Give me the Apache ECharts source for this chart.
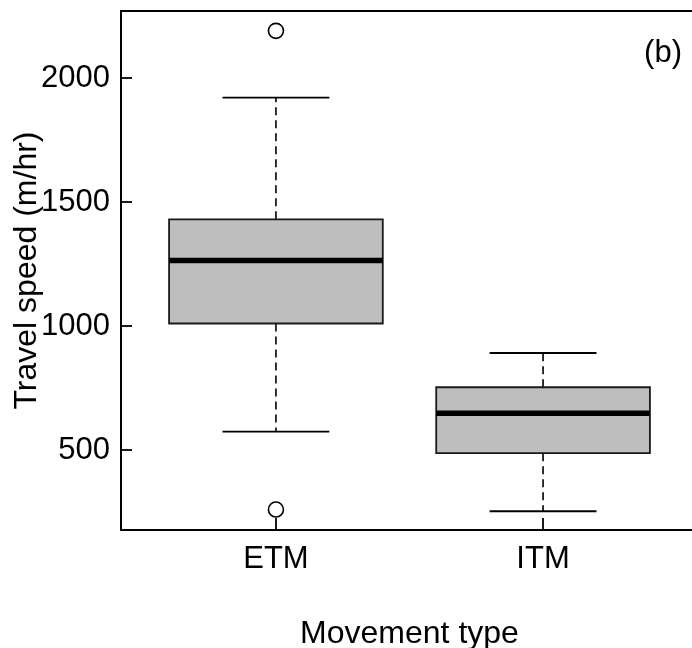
<!DOCTYPE html>
<html>
<head>
<meta charset="utf-8">
<script src="https://cdn.jsdelivr.net/npm/echarts@6/dist/echarts.min.js"></script>
<style>
  html, body { margin: 0; padding: 0; background: #fff; }
  #chart { width: 692px; height: 648px; }
</style>
</head>
<body>
<div id="chart"></div>
<script>
// Travel speed by movement type: box summaries and outliers
const categories = ['ETM', 'ITM'];
const lowerWhisker = [574, 253];
const q1 = [1010, 487];
const median = [1264, 648];
const q3 = [1430, 753];
const upperWhisker = [1921, 891];
const outlierGroup = [0, 0];
const outlierValue = [2190, 260];
const yTicks = [500, 1000, 1500, 2000];

const FONT = '"Liberation Sans", Arial, sans-serif';
const BOX_WIDTH = 0.8;

const boxData = categories.map((c, i) => [i + 1, lowerWhisker[i], q1[i], median[i], q3[i], upperWhisker[i]]);
const outlierData = outlierGroup.map((g, i) => [g + 1, outlierValue[i]]);

function renderBox(params, api) {
  const x = api.value(0);
  const half = api.size([BOX_WIDTH, 0])[0] / 2;
  const lo = api.coord([x, api.value(1)]);
  const b1 = api.coord([x, api.value(2)]);
  const md = api.coord([x, api.value(3)]);
  const b3 = api.coord([x, api.value(4)]);
  const hi = api.coord([x, api.value(5)]);
  const cx = lo[0];
  const dashed = { stroke: '#000', lineWidth: 1.6, lineDash: [8, 5] };
  const solid = { stroke: '#000', lineWidth: 1.8 };
  return {
    type: 'group',
    children: [
      { type: 'line', shape: { x1: cx, y1: b3[1], x2: cx, y2: hi[1] }, style: dashed },
      { type: 'line', shape: { x1: cx, y1: b1[1], x2: cx, y2: lo[1] }, style: dashed },
      { type: 'line', shape: { x1: cx - half / 2, y1: hi[1], x2: cx + half / 2, y2: hi[1] }, style: solid },
      { type: 'line', shape: { x1: cx - half / 2, y1: lo[1], x2: cx + half / 2, y2: lo[1] }, style: solid },
      { type: 'rect', shape: { x: cx - half, y: b3[1], width: 2 * half, height: b1[1] - b3[1] },
        style: { fill: '#bebebe', stroke: '#1a1a1a', lineWidth: 1.8 } },
      { type: 'line', shape: { x1: cx - half, y1: md[1], x2: cx + half, y2: md[1] },
        style: { stroke: '#000', lineWidth: 5.5 } }
    ]
  };
}

const chart = echarts.init(document.getElementById('chart'), null, { renderer: 'canvas' });
chart.setOption({
  animation: false,
  backgroundColor: '#fff',
  textStyle: { fontFamily: FONT, color: '#000' },
  // plot frame runs past the right edge of the canvas
  grid: {
    left: 121, top: 11, width: 620, height: 519,
    containLabel: false, outerBoundsMode: 'none',
    show: true, borderColor: '#000', borderWidth: 2, backgroundColor: 'transparent'
  },
  title: {
    text: '(b)', right: 5, top: 33,
    textStyle: { fontFamily: FONT, fontSize: 31, fontWeight: 'normal', color: '#000' }
  },
  xAxis: {
    type: 'value', min: 0.42, max: 2.741,
    name: 'Movement type', nameLocation: 'middle', nameGap: 88, nameMoveOverlap: false,
    nameTextStyle: { fontFamily: FONT, fontSize: 32, color: '#000', padding: [0, 43, 0, 0] },
    axisLine: { show: false },
    splitLine: { show: false },
    axisTick: { show: true, inside: true, length: 12, customValues: [1, 2],
      lineStyle: { color: '#000', width: 1.8 } },
    axisLabel: {
      customValues: [1, 2], margin: 14,
      fontFamily: FONT, fontSize: 31, color: '#000',
      formatter: v => categories[Math.round(v) - 1] || ''
    }
  },
  yAxis: {
    type: 'value', min: 177.4, max: 2270,
    name: 'Travel speed (m/hr)', nameLocation: 'middle', nameGap: 78, nameMoveOverlap: false,
    nameTextStyle: { fontFamily: FONT, fontSize: 32, color: '#000' },
    axisLine: { show: false },
    splitLine: { show: false },
    axisTick: { show: true, inside: true, length: 11, customValues: yTicks,
      lineStyle: { color: '#000', width: 1.8 } },
    axisLabel: {
      customValues: yTicks, margin: 11,
      fontFamily: FONT, fontSize: 31, color: '#000',
      formatter: v => String(v)
    }
  },
  series: [
    {
      type: 'custom',
      renderItem: renderBox,
      encode: { x: 0, y: [1, 2, 3, 4, 5] },
      data: boxData,
      clip: false
    },
    {
      type: 'scatter',
      data: outlierData,
      symbol: 'circle',
      symbolSize: 15,
      itemStyle: { color: '#fff', borderColor: '#000', borderWidth: 1.6, opacity: 1 },
      z: 5
    }
  ]
});
</script>
</body>
</html>
